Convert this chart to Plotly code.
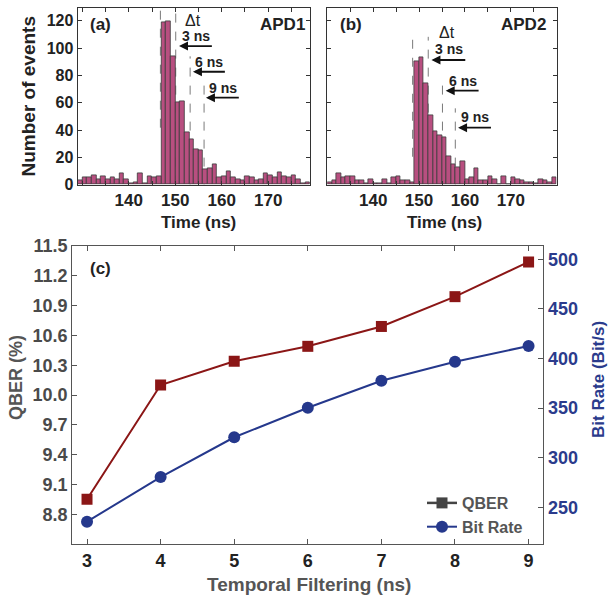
import plotly.graph_objects as go

# ---------------- data ----------------
apd1_first_bin = 129          # ns, left edge of first 1-ns bin (APD1)
apd1_counts = [3, 5, 5, 7, 4, 6, 4, 5, 4, 8, 4, 1, 2, 8, 1, 6, 5, 6,
               119, 120, 94, 60, 61, 38, 33, 26, 25, 11, 12, 15,
               5, 6, 10, 5, 4, 3, 6, 5, 3, 4, 8, 7, 5, 9, 6, 5, 7, 4, 1, 2]
apd2_first_bin = 130          # ns, left edge of first 1-ns bin (APD2)
apd2_counts = [2, 3, 8, 5, 6, 6, 3, 3, 1, 4, 1, 1, 4, 1, 5, 6, 3, 3, 2,
               90, 93, 74, 51, 39, 36, 35, 21, 15, 13, 17, 4, 5, 12,
               3, 3, 6, 4, 0, 6, 0, 5, 4, 3, 2, 2, 1, 4, 3, 2, 5]
hist_ticks = [140, 150, 160, 170]
count_ticks = [0, 20, 40, 60, 80, 100, 120]

filter_ns = [3, 4, 5, 6, 7, 8, 9]
qber = [8.95, 10.10, 10.34, 10.49, 10.69, 10.99, 11.34]
bit_rate = [235.5, 280.5, 320.6, 350.4, 377.6, 396.8, 412.6]
qber_ticks = [8.8, 9.1, 9.4, 9.7, 10.0, 10.3, 10.6, 10.9, 11.2, 11.5]
rate_ticks = [250, 300, 350, 400, 450, 500]

# ---------------- style ----------------
FONT = "Liberation Sans, Arial, sans-serif"
BAR = "#b84f80"
RED = "#8b1616"
BLUE = "#25388c"
W, H = 608, 596


def px(xp):
    return xp / W


def py(yp):
    return 1 - yp / H


fig = go.Figure()
bar_style = dict(color=BAR, line=dict(color="#3a3a3a", width=0.8))
fig.add_trace(go.Bar(x0=apd1_first_bin + 0.5, dx=1, y=apd1_counts, xaxis="x", yaxis="y",
                     marker=bar_style, showlegend=False, width=1))
fig.add_trace(go.Bar(x0=apd2_first_bin + 0.5, dx=1, y=apd2_counts, xaxis="x2", yaxis="y2",
                     marker=bar_style, showlegend=False, width=1))

fig.add_trace(go.Scatter(x=filter_ns, y=qber, xaxis="x3", yaxis="y3", mode="lines+markers",
                         line=dict(color=RED, width=2), showlegend=False,
                         marker=dict(symbol="square", size=11, color=RED)))
fig.add_trace(go.Scatter(x=[None], y=[None], xaxis="x3", yaxis="y3", mode="lines+markers",
                         name="QBER", line=dict(color="#444444", width=2.5),
                         marker=dict(symbol="square", size=11, color="#444444")))
fig.add_trace(go.Scatter(x=filter_ns, y=bit_rate, xaxis="x3", yaxis="y4", mode="lines+markers",
                         name="Bit Rate", line=dict(color=BLUE, width=2),
                         marker=dict(symbol="circle", size=12, color=BLUE)))


def bold(size, color="#222222"):
    return dict(family=FONT, size=size, color=color, weight="bold")


hist_x = dict(showline=True, linecolor="#333333", linewidth=1.2, mirror="ticks",
              ticks="inside", ticklen=4, tickcolor="#333333", tickvals=hist_ticks,
              tickfont=bold(17), showgrid=False, zeroline=False, automargin=False,
              minor=dict(ticks="inside", dtick=5, tick0=130, ticklen=4, tickcolor="#333333"))
hist_y = dict(showline=True, linecolor="#333333", linewidth=1.2, mirror="ticks",
              ticks="inside", ticklen=4, tickcolor="#333333", tickvals=count_ticks,
              range=[0, 129.2], showgrid=False, zeroline=False, tickfont=bold(16),
              automargin=False)

hist_dom_y = [py(184.6), py(8.3)]
fig.update_layout(
    template="none",
    width=W, height=H, margin=dict(l=0, r=0, t=0, b=0, pad=0), autosize=False,
    paper_bgcolor="white", plot_bgcolor="white", bargap=0,
    font=dict(family=FONT),
    xaxis=dict(hist_x, domain=[px(77.7), px(310)], range=[129, 179], anchor="y"),
    yaxis=dict(hist_y, domain=hist_dom_y, anchor="x"),
    xaxis2=dict(hist_x, domain=[px(327.3), px(556.7)], range=[130, 180], anchor="y2"),
    yaxis2=dict(hist_y, domain=hist_dom_y, anchor="x2", showticklabels=False),
    xaxis3=dict(domain=[px(72.3), px(543.3)], range=[2.8, 9.2], anchor="y3",
                tickvals=filter_ns, showline=True, linecolor="#555555", linewidth=1.3,
                mirror="ticks", ticks="inside", ticklen=5, tickcolor="#555555",
                tickfont=bold(18), showgrid=False, zeroline=False, automargin=False),
    yaxis3=dict(domain=[py(544), py(246)], range=[8.5, 11.5], anchor="x3",
                tickvals=qber_ticks, tickformat=".1f", showline=True, linecolor="#555555",
                linewidth=1.3, ticks="inside", ticklen=5, tickcolor="#555555",
                tickfont=bold(18, "#4a4a4a"), showgrid=False, zeroline=False,
                automargin=False),
    yaxis4=dict(overlaying="y3", side="right", anchor="x3", range=[213, 513.4],
                tickvals=rate_ticks, showline=True, linecolor="#555555", linewidth=1.3,
                ticks="inside", ticklen=5, tickcolor="#555555",
                tickfont=bold(18, "#2b3b8c"), showgrid=False, zeroline=False,
                automargin=False),
    legend=dict(x=px(422), y=py(486), xanchor="left", yanchor="top",
                font=bold(16, "#555555"), bgcolor="rgba(0,0,0,0)", itemwidth=30,
                tracegroupgap=0, borderwidth=0),
)

ann = []


def text(x, y, s, size, color="#222222", angle=0, xanchor="center", xref="paper", yref="paper", weight="bold"):
    ann.append(dict(x=x, y=y, xref=xref, yref=yref, text=s, showarrow=False,
                    textangle=angle, xanchor=xanchor, yanchor="middle",
                    font=dict(family=FONT, size=size, color=color, weight=weight)))


text(px(27.5), py(97), "Number of events", 19, angle=-90)
text(px(198), py(222), "Time (ns)", 17)
text(px(444), py(222), "Time (ns)", 17)
text(px(100.8), py(25), "(a)", 17)
text(px(306.7), py(25), "APD1", 17, xanchor="right")
text(px(350.8), py(25), "(b)", 17)
text(px(548.3), py(25), "APD2", 17, xanchor="right")
text(px(100.8), py(268), "(c)", 17)
text(px(16), py(378), "QBER (%)", 18, color="#555555", angle=-90)
text(px(598), py(380), "Bit Rate (Bit/s)", 17, color="#2b3b8c", angle=-90)
text(px(309), py(584), "Temporal Filtering (ns)", 19, color="#555555")

# panel (a) Δt labels (data coords)
text(153.8, 120, "Δt", 16, xref="x", yref="y", weight="normal")
text(154.5, 109, "3 ns", 14, xref="x", yref="y")
text(157.3, 90, "6 ns", 14, xref="x", yref="y")
text(160.3, 70.5, "9 ns", 14, xref="x", yref="y")
# panel (b)
text(156.1, 111.3, "Δt", 16, xref="x2", yref="y2", weight="normal")
text(156.5, 99.1, "3 ns", 14, xref="x2", yref="y2")
text(159.5, 76.1, "6 ns", 14, xref="x2", yref="y2")
text(162.2, 49.3, "9 ns", 14, xref="x2", yref="y2")


def arrow(xh, xt, y, xr, yr):
    ann.append(dict(x=xh, y=y, ax=xt, ay=y, xref=xr, yref=yr, axref=xr, ayref=yr,
                    text="", showarrow=True, arrowhead=2, arrowsize=1, arrowwidth=1.8,
                    arrowcolor="#111111", standoff=0, startstandoff=0))


arrow(150.8, 158.2, 101.5, "x", "y")
arrow(153.8, 161.0, 82.7, "x", "y")
arrow(156.6, 164.0, 63.7, "x", "y")
arrow(152.7, 160.4, 91.3, "x2", "y2")
arrow(155.8, 163.3, 68.8, "x2", "y2")
arrow(158.5, 166.0, 41.7, "x2", "y2")

shapes = []


def vline(x, y0, y1, xr, yr):
    shapes.append(dict(type="line", x0=x, x1=x, y0=y0, y1=y1, xref=xr, yref=yr,
                       layer="below", line=dict(color="#7a7a7a", width=1, dash="dash")))


vline(146.8, 41.7, 129.2, "x", "y")
vline(150.1, 0, 129.2, "x", "y")
vline(153.2, 0, 94, "x", "y")
vline(156.2, 0, 78, "x", "y")
vline(148.6, 20.4, 108.3, "x2", "y2")
vline(152.0, 0, 108.3, "x2", "y2")
vline(155.1, 0, 77.9, "x2", "y2")
vline(157.9, 0, 55.9, "x2", "y2")

fig.update_layout(annotations=ann, shapes=shapes)
fig.write_html("out.html", config={"displayModeBar": False},
               post_script="document.body.style.margin='0';document.body.style.overflow='hidden';")
